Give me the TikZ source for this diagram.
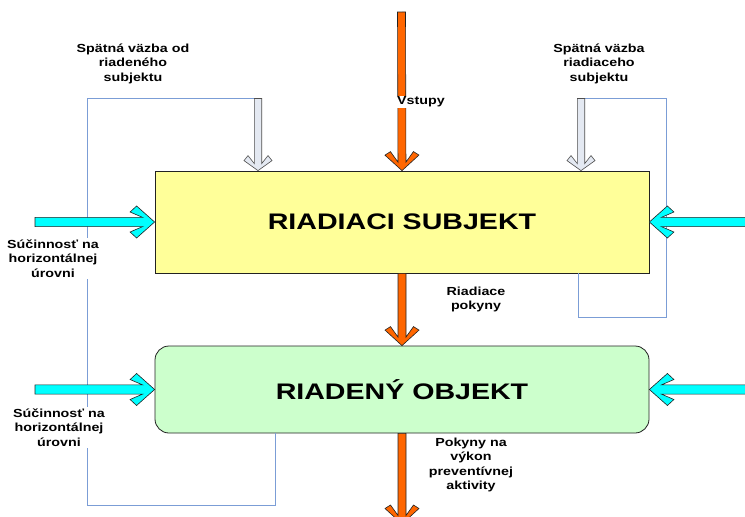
\documentclass[tikz,border=0pt]{standalone}
\usepackage{fontspec}
\setmainfont{Liberation Sans}
\newfontfamily\lblfont{Liberation Sans}[FakeStretch=1.22]
\newfontfamily\ttlfont{Liberation Sans}[FakeStretch=1.27]
\usetikzlibrary{calc}
\definecolor{boxyellow}{HTML}{FFFF99}
\definecolor{boxgreen}{HTML}{CCFFCC}
\definecolor{arrorange}{HTML}{FF6600}
\definecolor{arrcyan}{HTML}{00FFFF}
\definecolor{arrgray}{HTML}{E4E9F2}
\definecolor{fbblue}{HTML}{7B9DD6}
\definecolor{edgedark}{HTML}{222222}
% #1 style, #2 start, #3 tip, #4 shaft half width,
% #5 junction along, #6 cap along, #7 cap across, #8 corner along, #9 corner across
\newcommand\blockarrow[9]{%
  \filldraw[#1]
    ($(#2)!#4pt!-90:(#3)$)
    -- ($(#3)!{veclen(#5,#4)*1pt}!{atan2(#4,#5)}:(#2)$)
    -- ($(#3)!{veclen(#6,#7)*1pt}!{atan2(#7,#6)}:(#2)$)
    -- ($(#3)!{veclen(#8,#9)*1pt}!{atan2(#9,#8)}:(#2)$)
    -- (#3)
    -- ($(#3)!{veclen(#8,#9)*1pt}!{atan2(-#9,#8)}:(#2)$)
    -- ($(#3)!{veclen(#6,#7)*1pt}!{atan2(-#7,#6)}:(#2)$)
    -- ($(#3)!{veclen(#5,#4)*1pt}!{atan2(-#4,#5)}:(#2)$)
    -- ($(#2)!#4pt!90:(#3)$) -- cycle;}
\newcommand\orangearrow[2]{\blockarrow{orangearr}{#1}{#2}{4}{8.5}{19}{11.5}{15.5}{17}}
\newcommand\cyanarrow[2]{\blockarrow{cyanarr}{#1}{#2}{4.6}{12}{24.5}{10}{18}{16}}
\newcommand\grayarrow[2]{\blockarrow{grayarr}{#1}{#2}{3.7}{7}{15}{10}{10}{14}}
\begin{document}
\begin{tikzpicture}[x=1pt,y=-1pt,
  orangearr/.style={fill=arrorange,draw=edgedark,line width=0.6pt,line join=miter},
  cyanarr/.style={fill=arrcyan,draw=edgedark,line width=0.6pt,line join=miter},
  grayarr/.style={fill=arrgray,draw=edgedark!80,line width=0.6pt,line join=miter},
  fbline/.style={draw=fbblue,line width=0.8pt},
  mainbox/.style={draw=edgedark,line width=0.8pt,minimum width=494pt,inner sep=0pt,
    font=\ttlfont\bfseries\fontsize{22.5}{26}\selectfont},
  lbl/.style={align=center,inner sep=1.5pt,
    font=\lblfont\bfseries\fontsize{11.7}{14.5}\selectfont},
  wlbl/.style={lbl,fill=white}]
\useasboundingbox (0,0) rectangle (745,517);
\fill[white] (0,0) rectangle (745,517);

% main boxes
\node[mainbox,fill=boxyellow,minimum height=102pt] (ys) at (402,222) {RIADIACI SUBJEKT};
\node[mainbox,fill=boxgreen,minimum height=87pt,rounded corners=14pt] (obj) at (402,389.5) {RIADENÝ OBJEKT};

% named end points
\coordinate (vin) at (401.5,12);
\coordinate (vout) at (402,524);
\coordinate (g1top) at (258,98.5);
\coordinate (g2top) at (581,98.5);
\coordinate (cl1) at (35,222);
\coordinate (cl2) at (35,389.5);
\coordinate (cr1) at (752,222);
\coordinate (cr2) at (752,389.5);
\coordinate (fbl) at (275,505);
\coordinate (fbll) at (87,505);
\coordinate (fbr) at (666,317);
\coordinate (fbrr) at (578,317);

% feedback lines
\draw[fbline] (obj.south -| fbl) -- (fbl) -- (fbll) -- (fbll |- g1top) -- (g1top);
\draw[fbline] (g2top) -- (fbr |- g2top) -- (fbr) -- (fbrr) -- (fbrr |- ys.south);

% arrows
\orangearrow{vin}{ys.north}
\orangearrow{ys.south}{obj.north}
\orangearrow{obj.south}{vout}
\grayarrow{g1top}{g1top |- ys.north}
\grayarrow{g2top}{g2top |- ys.north}
\cyanarrow{cl1}{ys.west}
\cyanarrow{cl2}{obj.west}
\cyanarrow{cr1}{ys.east}
\cyanarrow{cr2}{obj.east}

% labels
\node[lbl] (l1) at (133,63.5) {Spätná väzba od\\riadeného\\subjektu};
\node[lbl] (l2) at (599,63.5) {Spätná väzba\\riadiaceho\\subjektu};
\node[wlbl,anchor=west,inner sep=1pt] (l3) at (396,102) {Vstupy};
\node[wlbl] (l4) at (53,258.5) {Súčinnosť na\\horizontálnej\\úrovni};
\node[wlbl] (l5) at (59,427.5) {Súčinnosť na\\horizontálnej\\úrovni};
\node[lbl] (l6) at (476,299.5) {Riadiace\\pokyny};
\node[lbl] (l7) at (471,465) {Pokyny na\\výkon\\preventívnej\\aktivity};
\end{tikzpicture}
\end{document}
